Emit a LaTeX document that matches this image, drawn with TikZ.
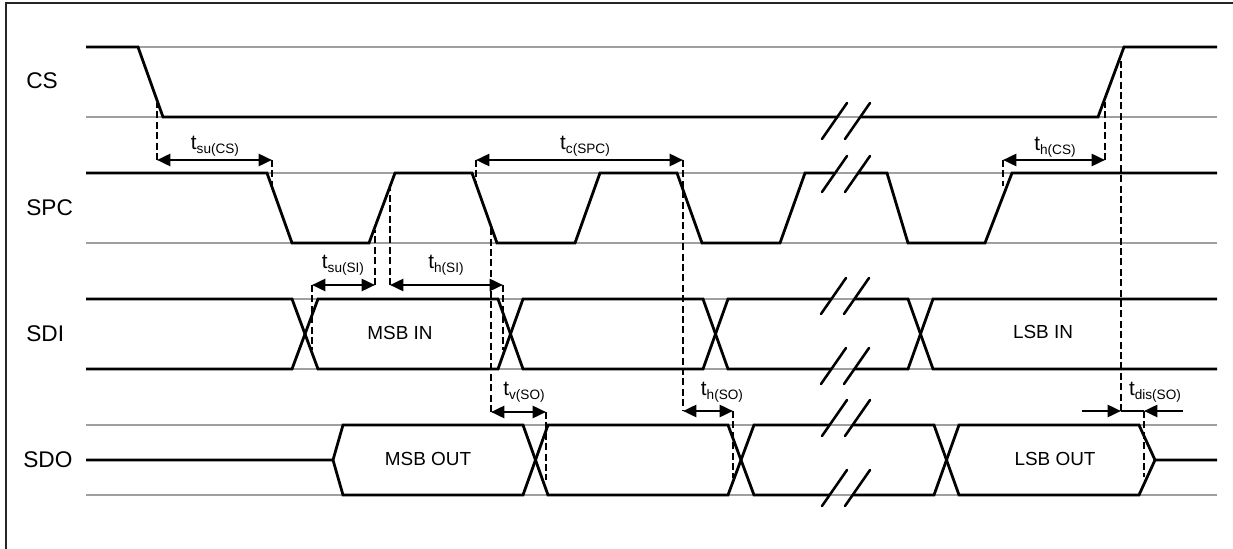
\documentclass[tikz,border=0pt]{standalone}
\usepackage{fontspec}
\setmainfont{Liberation Sans}
\usetikzlibrary{arrows.meta}
\newcommand{\tsub}[1]{t\raisebox{-0.32ex}{\fontsize{10.2}{11}\selectfont #1}}
\tikzset{
    x=0.75pt,
    y=-0.75pt,
    >={Triangle[length=10pt,width=9pt]},
    wave/.style={line width=2.1pt, line join=miter},
    rail/.style={line width=1pt, gray!75},
    dropline/.style={line width=1.5pt, dash pattern=on 5.2pt off 2.6pt},
    tick/.style={line width=1.9pt, line cap=round},
    signal/.style={anchor=west, inner sep=0pt, font=\fontsize{17}{18}\selectfont},
    datalabel/.style={inner sep=0pt, font=\fontsize{14.2}{16}\selectfont},
    timelabel/.style={inner sep=0pt, font=\fontsize{15.5}{16}\selectfont},
}
\tikzstyle{arrow} = [line width=1.9pt, <->]
\tikzstyle{onearrow} = [line width=1.9pt, ->]
\begin{document}
\begin{tikzpicture}
                \useasboundingbox (0,0) rectangle (1233,549);
                \draw[line width=1.1pt, black!85] (6,549) -- (6,3) -- (1233,3);

                % Rails
                \foreach \y in {47,117,173,243,299,369,425,495}
                    \draw[rail] (86,\y) -- (1217,\y);

                % Signal names
                \node[signal] (cs) at (26,81) {CS};
                \node[signal] (spc) at (26,208) {SPC};
                \node[signal] (sdi) at (26,334) {SDI};
                \node[signal] (sdo) at (23,460) {SDO};

                % CS
                \draw[wave] (86,47) -- (138,47) -- (163,117) -- (838,117);
                \draw[wave] (861,117) -- (1098,117) -- (1124,47) -- (1217,47);

                % SPC
                \draw[wave] (86,173) -- (267,173) -- (292,243) -- (369,243) -- (395,173) -- (472,173)
                    -- (497,243) -- (575,243) -- (600,173) -- (677,173) -- (702,243) -- (780,243)
                    -- (805,173) -- (834,173);
                \draw[wave] (857,173) -- (887,173) -- (908,243) -- (985,243) -- (1012,173) -- (1217,173);

                % SDI
                \draw[wave] (86,299) -- (292,299) -- (318,369) -- (498,369) -- (523,299) -- (703,299)
                    -- (728,369) -- (832,369);
                \draw[wave] (86,369) -- (292,369) -- (318,299) -- (498,299) -- (523,369) -- (703,369)
                    -- (728,299) -- (832,299);
                \draw[wave] (854,299) -- (908,299) -- (933,369) -- (1217,369);
                \draw[wave] (854,369) -- (908,369) -- (933,299) -- (1217,299);

                % SDO
                \draw[wave] (86,460) -- (333,460) -- (343,425) -- (523,425) -- (548,495) -- (728,495)
                    -- (754,425) -- (830,425);
                \draw[wave] (333,460) -- (343,495) -- (523,495) -- (548,425) -- (728,425)
                    -- (754,495) -- (830,495);
                \draw[wave] (852,425) -- (934,425) -- (959,495) -- (1139,495) -- (1155,460) -- (1217,460);
                \draw[wave] (852,495) -- (934,495) -- (959,425) -- (1139,425) -- (1155,460);

                % Breaks
                \foreach \x/\y in {822/121,822/174,821/296,821/366,822/418,822/488}{
                    \draw[tick] (\x,\y+18) -- (\x+25,\y-18);
                    \draw[tick] (\x+23,\y+18) -- (\x+48,\y-18);
                }

                % Data
                \node[datalabel] (msbin) at (400,333) {MSB IN};
                \node[datalabel] (lsbin) at (1043,332) {LSB IN};
                \node[datalabel] (msbout) at (428,459) {MSB OUT};
                \node[datalabel] (lsbout) at (1055,459) {LSB OUT};

                % Timing marks
                \foreach \p/\x/\ya/\yb in {csdown/157/160/103, spcdown/272/160/186, siup/375/285/230,
                    hiup/390/285/185, sidata/312/285/350, hidata/503/285/350, perl/476/160/185,
                    perr/683/160/411, vclk/491/412/225, vdata/546/412/480, hodata/733/411/478,
                    hcsl/1003/160/186, hcsr/1105/160/102, disup/1121/411/58, disdata/1144/411/477}{
                    \coordinate (\p a) at (\x,\ya);
                    \coordinate (\p b) at (\x,\yb);
                    \draw[dropline] (\p a) -- (\p b);
                }
                \coordinate (disfarl) at (1082,411);
                \coordinate (disfarr) at (1183,411);

                \draw[arrow] (csdowna) -- (spcdowna);
                \draw[arrow] (sidataa) -- (siupa);
                \draw[arrow] (hiupa) -- (hidataa);
                \draw[arrow] (perla) -- (perra);
                \draw[arrow] (vclka) -- (vdataa);
                \draw[arrow] (perrb) -- (hodataa);
                \draw[arrow] (hcsla) -- (hcsra);
                \draw[onearrow] (disfarl) -- (disupa);
                \draw[onearrow] (disfarr) -- (disdataa);
                \draw[line width=0.8pt] (disupa) -- (disdataa);

                \node[timelabel] (tsucs) at (215,146) {\tsub{su(CS)}};
                \node[timelabel] (tsusi) at (343,265) {\tsub{su(SI)}};
                \node[timelabel] (thsi) at (446,265) {\tsub{h(SI)}};
                \node[timelabel] (tcspc) at (585,146) {\tsub{c(SPC)}};
                \node[timelabel] (tvso) at (524,392) {\tsub{v(SO)}};
                \node[timelabel] (thso) at (722,392) {\tsub{h(SO)}};
                \node[timelabel] (thcs) at (1055,147) {\tsub{h(CS)}};
                \node[timelabel] (tdisso) at (1155,392) {\tsub{dis(SO)}};
            \end{tikzpicture}
\end{document}
